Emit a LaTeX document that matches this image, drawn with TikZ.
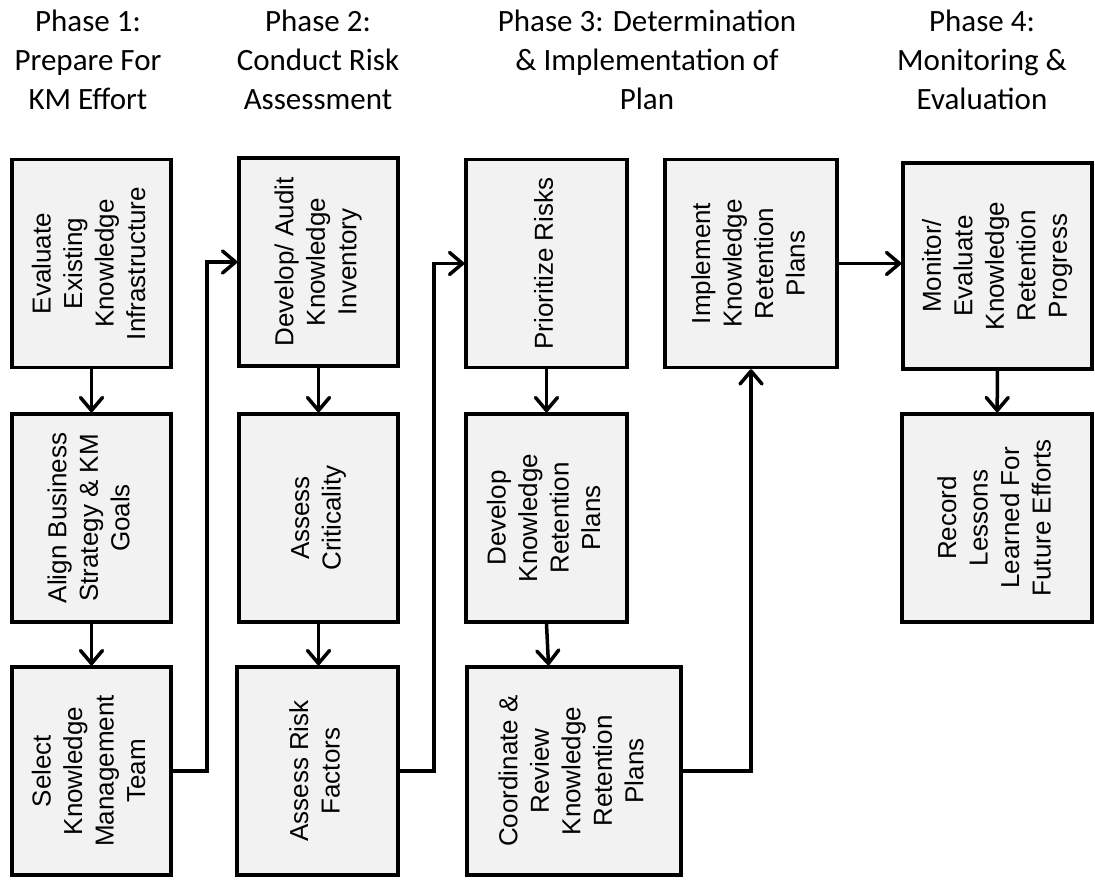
\documentclass[tikz,border=0pt]{standalone}
\usepackage{fontspec}
\setmainfont{Liberation Sans}
\newfontfamily\hdfont{Carlito}
\usetikzlibrary{arrows.meta}
\newcommand\vtext[1]{\rotatebox{90}{\begin{tabular}{@{}c@{}}#1\end{tabular}}}
\tikzset{
  stepbox/.style={draw=black, line width=3.5pt, fill=boxgray, inner sep=0pt,
    minimum width=159pt, minimum height=208pt,
    font=\fontsize{26}{31.5}\selectfont},
  phase/.style={align=center, inner sep=0pt, anchor=base,
    font=\hdfont\fontsize{31}{39}\selectfont},
  flow/.style={line width=3.5pt, line join=miter,
    -{Straight Barb[length=13pt,width=22pt,round]}},
}
\definecolor{boxgray}{HTML}{F2F2F2}
\begin{document}
\begin{tikzpicture}[x=1pt,y=-1pt]
\useasboundingbox (0,0) rectangle (1095,882);

% phase headings (placed by the baseline of their last line)
\node[phase] (h1) at (88,110)  {Phase 1:\\Prepare For\\KM Effort};
\node[phase] (h2) at (318,110) {Phase 2:\\Conduct Risk\\Assessment};
\node[phase] (h3) at (647,110) {Phase 3: Determination\\\& Implementation of\\Plan};
\node[phase] (h4) at (982,110) {Phase 4:\\Monitoring \&\\Evaluation};

% phase 1
\node[stepbox] (a1) at (91.5,263.5) {\vtext{Evaluate\\Existing\\Knowledge\\Infrastructure}};
\node[stepbox] (a2) at (91.5,518)   {\vtext{Align Business\\Strategy \& KM\\Goals}};
\node[stepbox] (a3) at (91.5,771)   {\vtext{Select\\Knowledge\\Management\\Team}};

% phase 2
\node[stepbox] (b1) at (318.5,262)  {\vtext{Develop/ Audit\\Knowledge\\Inventory}};
\node[stepbox] (b2) at (318.5,518)  {\vtext{Assess\\Criticality}};
\node[stepbox, minimum width=161pt] (b3) at (317.5,771) {\vtext{Assess Risk\\Factors}};

% phase 3
\node[stepbox, minimum width=161pt] (c1) at (546.5,263.5) {\vtext{Prioritize Risks}};
\node[stepbox, minimum width=161pt] (c2) at (546.5,518)   {\vtext{Develop\\Knowledge\\Retention\\Plans}};
\node[stepbox, minimum width=214pt] (c3) at (574,771)     {\vtext{Coordinate \&\\Review\\Knowledge\\Retention\\Plans}};
\node[stepbox, minimum width=172pt] (d1) at (751,263.5)   {\vtext{Implement\\Knowledge\\Retention\\Plans}};

% phase 4
\node[stepbox, minimum width=189pt, minimum height=206pt] (e1) at (997.5,266) {\vtext{Monitor/\\Evaluate\\Knowledge\\Retention\\Progress}};
\node[stepbox, minimum width=190pt] (e2) at (997,518) {\vtext{Record\\Lessons\\Learned For\\Future Efforts}};

% connectors
\draw[flow] (a1) -- (a2);
\draw[flow] (a2) -- (a3);
\draw[flow] (a3.east) -- ++(34,0) |- (b1.west);
\draw[flow] (b1) -- (b2);
\draw[flow] (b2.south) -- (b2.south |- b3.north);
\draw[flow] (b3.east) -- ++(34,0) |- (c1.west);
\draw[flow] (c1) -- (c2);
\draw[flow] (c2.south) -- ([xshift=2pt]c2.south |- c3.north);
\draw[flow] (c3.east) -| (d1.south);
\draw[flow] (d1.east) -- (d1.east -| e1.west);
\draw[flow] (e1) -- (e2);
\end{tikzpicture}
\end{document}
